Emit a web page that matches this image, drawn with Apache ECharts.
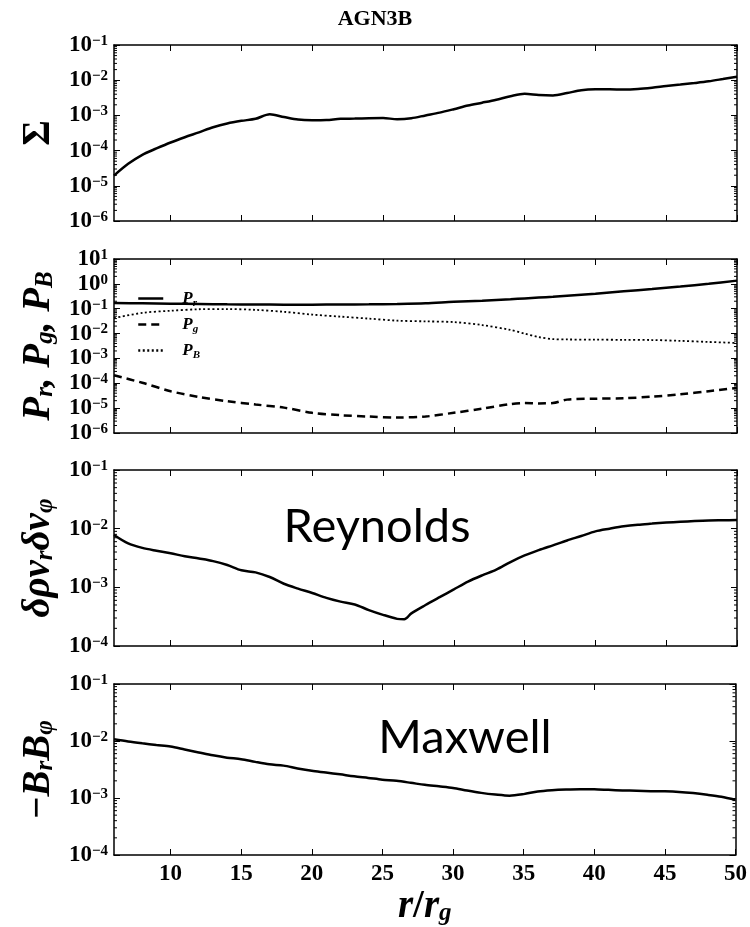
<!DOCTYPE html>
<html>
<head>
<meta charset="utf-8">
<script src="https://cdn.jsdelivr.net/npm/echarts@6/dist/echarts.min.js"></script>
<style>html,body{margin:0;padding:0;background:#fff;}#c{width:750px;height:927px;}</style>
</head>
<body>
<div id="c"></div>
<script>
// ---------- data ----------
const R_SIGMA = [6,7,8,9,10,11,12,13,14,15,16,17,18,19,20,21,22,23,24,25,26,27,28,29,30,31,32,33,34,35,36,37,38,39,40,41,42,43,44,45,46,47,48,49,50];
const SIGMA = [1.95e-5,4.2e-5,7.6e-5,1.15e-4,1.7e-4,2.4e-4,3.3e-4,4.6e-4,5.9e-4,7.0e-4,8.0e-4,1.08e-3,9.0e-4,7.6e-4,7.3e-4,7.4e-4,8.0e-4,8.1e-4,8.3e-4,8.4e-4,7.8e-4,8.3e-4,1.0e-3,1.2e-3,1.5e-3,1.9e-3,2.3e-3,2.8e-3,3.5e-3,4.1e-3,3.8e-3,3.7e-3,4.3e-3,5.2e-3,5.5e-3,5.5e-3,5.4e-3,5.6e-3,6.1e-3,6.8e-3,7.5e-3,8.3e-3,9.3e-3,1.08e-2,1.26e-2];

const R_P = [6,8,10,12,14,16,18,20,22,24,26,28,30,32,34,35,36,37,38,40,42,44,46,48,50];
const P_RAD = [0.17,0.165,0.16,0.155,0.15,0.148,0.146,0.146,0.147,0.15,0.155,0.165,0.19,0.21,0.24,0.26,0.28,0.3,0.33,0.4,0.5,0.62,0.78,1.0,1.35];
const P_GAS = [2.1e-4,1.05e-4,4.8e-5,2.8e-5,1.9e-5,1.4e-5,1.05e-5,6.5e-6,5.2e-6,4.6e-6,4.2e-6,4.6e-6,6.5e-6,9.5e-6,1.45e-5,1.6e-5,1.55e-5,1.6e-5,2.2e-5,2.4e-5,2.5e-5,2.9e-5,3.6e-5,4.8e-5,6.5e-5];
const P_MAG = [0.042,0.068,0.083,0.095,0.097,0.09,0.075,0.058,0.048,0.04,0.033,0.031,0.029,0.022,0.014,0.01,0.0072,0.006,0.0058,0.0057,0.0056,0.0055,0.0051,0.0046,0.0042];

const R_REY = [6,7,8,9,10,11,12,13,14,15,16,17,18,19,20,21,22,23,24,25,26,26.5,27,28,29,30,31,32,33,34,35,36,37,38,39,40,41,42,43,44,45,46,47,48,49,50];
const REYNOLDS = [7.8e-3,5.6e-3,4.7e-3,4.2e-3,3.8e-3,3.4e-3,3.1e-3,2.8e-3,2.4e-3,1.95e-3,1.8e-3,1.5e-3,1.15e-3,9.5e-4,8e-4,6.6e-4,5.7e-4,5.1e-4,4.1e-4,3.4e-4,2.9e-4,2.85e-4,3.6e-4,5.0e-4,6.8e-4,9.2e-4,1.25e-3,1.6e-3,2.0e-3,2.7e-3,3.5e-3,4.3e-3,5.2e-3,6.3e-3,7.5e-3,9e-3,1.0e-2,1.1e-2,1.17e-2,1.22e-2,1.27e-2,1.31e-2,1.35e-2,1.38e-2,1.39e-2,1.4e-2];

const R_MAX = [6,7,8,9,10,11,12,13,14,15,16,17,18,19,20,21,22,23,24,25,26,27,28,29,30,31,32,33,34,35,36,37,38,39,40,41,42,43,44,45,46,47,48,49,50];
const MAXWELL = [1.07e-2,9.8e-3,9.1e-3,8.5e-3,8.0e-3,7.1e-3,6.3e-3,5.6e-3,5.1e-3,4.8e-3,4.3e-3,3.9e-3,3.7e-3,3.3e-3,3.0e-3,2.8e-3,2.6e-3,2.4e-3,2.25e-3,2.1e-3,2.0e-3,1.85e-3,1.7e-3,1.6e-3,1.5e-3,1.35e-3,1.23e-3,1.15e-3,1.1e-3,1.17e-3,1.3e-3,1.37e-3,1.41e-3,1.43e-3,1.42e-3,1.39e-3,1.36e-3,1.34e-3,1.32e-3,1.31e-3,1.28e-3,1.22e-3,1.14e-3,1.05e-3,9.3e-4];

const X_TICKS = [10,15,20,25,30,35,40,45,50];
const Y_TICKS = [
  [1e-6,1e-5,1e-4,1e-3,1e-2,1e-1],
  [1e-6,1e-5,1e-4,1e-3,1e-2,1e-1,1e0,1e1],
  [1e-4,1e-3,1e-2,1e-1],
  [1e-4,1e-3,1e-2,1e-1]
];
const MINOR_MULT = [2,3,4,5,6,7,8,9];
const X_MIN = 6, X_MAX = 50;

// ---------- layout ----------
const GRIDS = [
  {top:45, height:176},
  {top:259, height:174},
  {top:470, height:176},
  {top:684, height:176}
];
const SERIF = '"Liberation Serif", "DejaVu Serif", serif';

function pair(xs, ys){ return xs.map((x,i)=>[x, ys[i]]); }

function tickFmt(v){
  const e = Math.round(Math.log10(v));
  const s = e < 0 ? '\u2212' + (-e) : '' + e;
  return '{b|10}{s|' + s + '}';
}
const tickRich = {
  b:{fontFamily:SERIF, fontWeight:'bold', fontSize:23, lineHeight:23, color:'#000', verticalAlign:'bottom'},
  s:{fontFamily:SERIF, fontWeight:'bold', fontSize:15, lineHeight:15, color:'#000', padding:[0,0,12,0], verticalAlign:'top'}
};
const nameRich = {
  t:{fontFamily:SERIF, fontWeight:'bold', fontStyle:'italic', fontSize:39, lineHeight:39, color:'#000', verticalAlign:'top'},
  u:{fontFamily:SERIF, fontWeight:'bold', fontSize:39, lineHeight:39, color:'#000', verticalAlign:'top'},
  d:{fontFamily:SERIF, fontWeight:'bold', fontStyle:'italic', fontSize:25, lineHeight:25, color:'#000', padding:[14,0,0,0], verticalAlign:'top'}
};
const NAMES = [
  '{u|\u03A3}',
  '{t|P}{d|r}{t|, P}{d|g}{t|, P}{d|B}',
  '{t|\u03B4\u03C1v}{d|r}{t|\u03B4v}{d|\u03C6}',
  '{u|\u2212}{t|B}{d|r}{t|B}{d|\u03C6}'
];

const grid = [], xAxis = [], yAxis = [], series = [], extraY = [];
GRIDS.forEach((g, i) => {
  grid.push({left:114, right:13, top:g.top, height:g.height, show:false});
  const lineStyle = {color:'#000', width:1.5};
  const base = {gridIndex:i, type:'value', min:X_MIN, max:X_MAX, splitLine:{show:false},
    axisLine:{show:true, onZero:false, lineStyle},
    axisTick:{show:true, inside:true, length:6, customValues:X_TICKS, lineStyle:{color:'#000', width:1}}};
  xAxis.push(Object.assign({}, base, {position:'bottom',
    axisLabel:{show: i===3, customValues:X_TICKS, margin:8, color:'#000', fontFamily:SERIF, fontWeight:'bold', fontSize:23, showMinLabel:true, showMaxLabel:true, hideOverlap:false},
    name: i===3 ? '{t|r}{u|/}{t|r}{d|g}' : '', nameLocation:'middle', nameGap:32,
    nameTextStyle:{rich:nameRich}
  }));
  xAxis.push(Object.assign({}, base, {position:'top', axisLabel:{show:false}}));
  const yt = Y_TICKS[i];
  // dense panel: split labels across two co-located axes so none overlap
  const split = yt.length > 6;
  const labA = split ? yt.filter((_, k) => k % 2 === 0) : yt;
  const labB = split ? yt.filter((_, k) => k % 2 === 1) : null;
  const ybase = {gridIndex:i, type:'log', logBase:10, min:yt[0], max:yt[yt.length-1], splitLine:{show:false},
    axisLine:{show:true, onZero:false, lineStyle},
    axisTick:{show:true, inside:true, length:6, customValues:yt, lineStyle:{color:'#000', width:1}}};
  const lab = (vals) => ({customValues:vals, formatter:tickFmt, rich:tickRich, margin:6, showMinLabel:true, showMaxLabel:true, hideOverlap:false});
  yAxis.push(Object.assign({}, ybase, {position:'left', axisLabel:lab(labA),
    name:NAMES[i], nameLocation:'middle', nameRotate:90, nameGap:55,
    nameTextStyle:{rich:nameRich}
  }));
  yAxis.push(Object.assign({}, ybase, {position:'right', axisLabel:{show:false}}));
  if (labB) {
    extraY.push(Object.assign({}, ybase, {position:'left', offset:0,
      axisLine:{show:false}, axisTick:{show:false}, axisLabel:lab(labB)}));
  }

  // minor log ticks on both sides (axis decoration)
  const minor = [];
  for (let k = 0; k < yt.length - 1; k++) MINOR_MULT.forEach(m => minor.push([X_MIN, yt[k]*m]));
  series.push({type:'custom', xAxisIndex:2*i, yAxisIndex:2*i, silent:true, data:minor, z:1,
    renderItem:(params, api) => {
      const v = api.value(1);
      const pL = api.coord([X_MIN, v]);
      const pR = api.coord([X_MAX, v]);
      return {type:'group', children:[
        {type:'line', shape:{x1:pL[0], y1:pL[1], x2:pL[0]+3, y2:pL[1]}, style:{stroke:'#000', lineWidth:1}},
        {type:'line', shape:{x1:pR[0]-3, y1:pR[1], x2:pR[0], y2:pR[1]}, style:{stroke:'#000', lineWidth:1}}
      ]};
    }});
});
extraY.forEach(a => yAxis.push(a));

const lineBase = {type:'line', showSymbol:false, symbol:'none', smooth:0.3, animation:false, color:'#000', itemStyle:{color:'#000'}};
series.push(Object.assign({}, lineBase, {name:'Sigma', xAxisIndex:0, yAxisIndex:0, data:pair(R_SIGMA, SIGMA), lineStyle:{color:'#000', width:2.5}}));
series.push(Object.assign({}, lineBase, {name:'Pr', xAxisIndex:2, yAxisIndex:2, data:pair(R_P, P_RAD), lineStyle:{color:'#000', width:2.5}}));
series.push(Object.assign({}, lineBase, {name:'Pg', xAxisIndex:2, yAxisIndex:2, data:pair(R_P, P_GAS), lineStyle:{color:'#000', width:2.5, type:[8,5]}}));
series.push(Object.assign({}, lineBase, {name:'PB', xAxisIndex:2, yAxisIndex:2, data:pair(R_P, P_MAG), lineStyle:{color:'#000', width:1.8, type:[2,2.5]}}));
series.push(Object.assign({}, lineBase, {name:'Reynolds', xAxisIndex:4, yAxisIndex:4, data:pair(R_REY, REYNOLDS), lineStyle:{color:'#000', width:2.5}}));
series.push(Object.assign({}, lineBase, {name:'Maxwell', xAxisIndex:6, yAxisIndex:6, data:pair(R_MAX, MAXWELL), lineStyle:{color:'#000', width:2.5}}));

const LEGEND_LABELS = {Pr:'{g|}{i|P}{s|r}', Pg:'{g|}{i|P}{s|g}', PB:'{g|}{i|P}{s|B}'};

const chart = echarts.init(document.getElementById('c'), null, {renderer:'canvas'});
chart.setOption({
  animation:false,
  backgroundColor:'#fff',
  grid, xAxis, yAxis, series,
  legend:{
    data:['Pr','Pg','PB'], orient:'vertical', left:137, top:290, itemWidth:25, itemHeight:14, itemGap:7,
    padding:0,
    itemStyle:{opacity:0, borderWidth:0},
    lineStyle:{width:2.5},
    formatter:(n)=>LEGEND_LABELS[n],
    textStyle:{rich:{
      g:{width:14, fontSize:17, lineHeight:17},
      i:{fontFamily:SERIF, fontWeight:'bold', fontStyle:'italic', fontSize:17, lineHeight:17, color:'#000', verticalAlign:'top'},
      s:{fontFamily:SERIF, fontWeight:'bold', fontStyle:'italic', fontSize:11, lineHeight:11, color:'#000', padding:[8,0,0,0], verticalAlign:'top'}
    }}
  },
  graphic:[
    {type:'text', left:'center', x:425, top:8, style:{text:'AGN3B', font:'bold 22px ' + SERIF, fill:'#000'}},
    {type:'text', x:377, y:527, style:{text:'Reynolds', font:'47px Lato, "Open Sans", sans-serif', fill:'#000', textAlign:'center', textVerticalAlign:'middle', align:'center', verticalAlign:'middle'}},
    {type:'text', x:465, y:738, style:{text:'Maxwell', font:'47px Lato, "Open Sans", sans-serif', fill:'#000', textAlign:'center', textVerticalAlign:'middle', align:'center', verticalAlign:'middle'}}
  ]
});
</script>
</body>
</html>
